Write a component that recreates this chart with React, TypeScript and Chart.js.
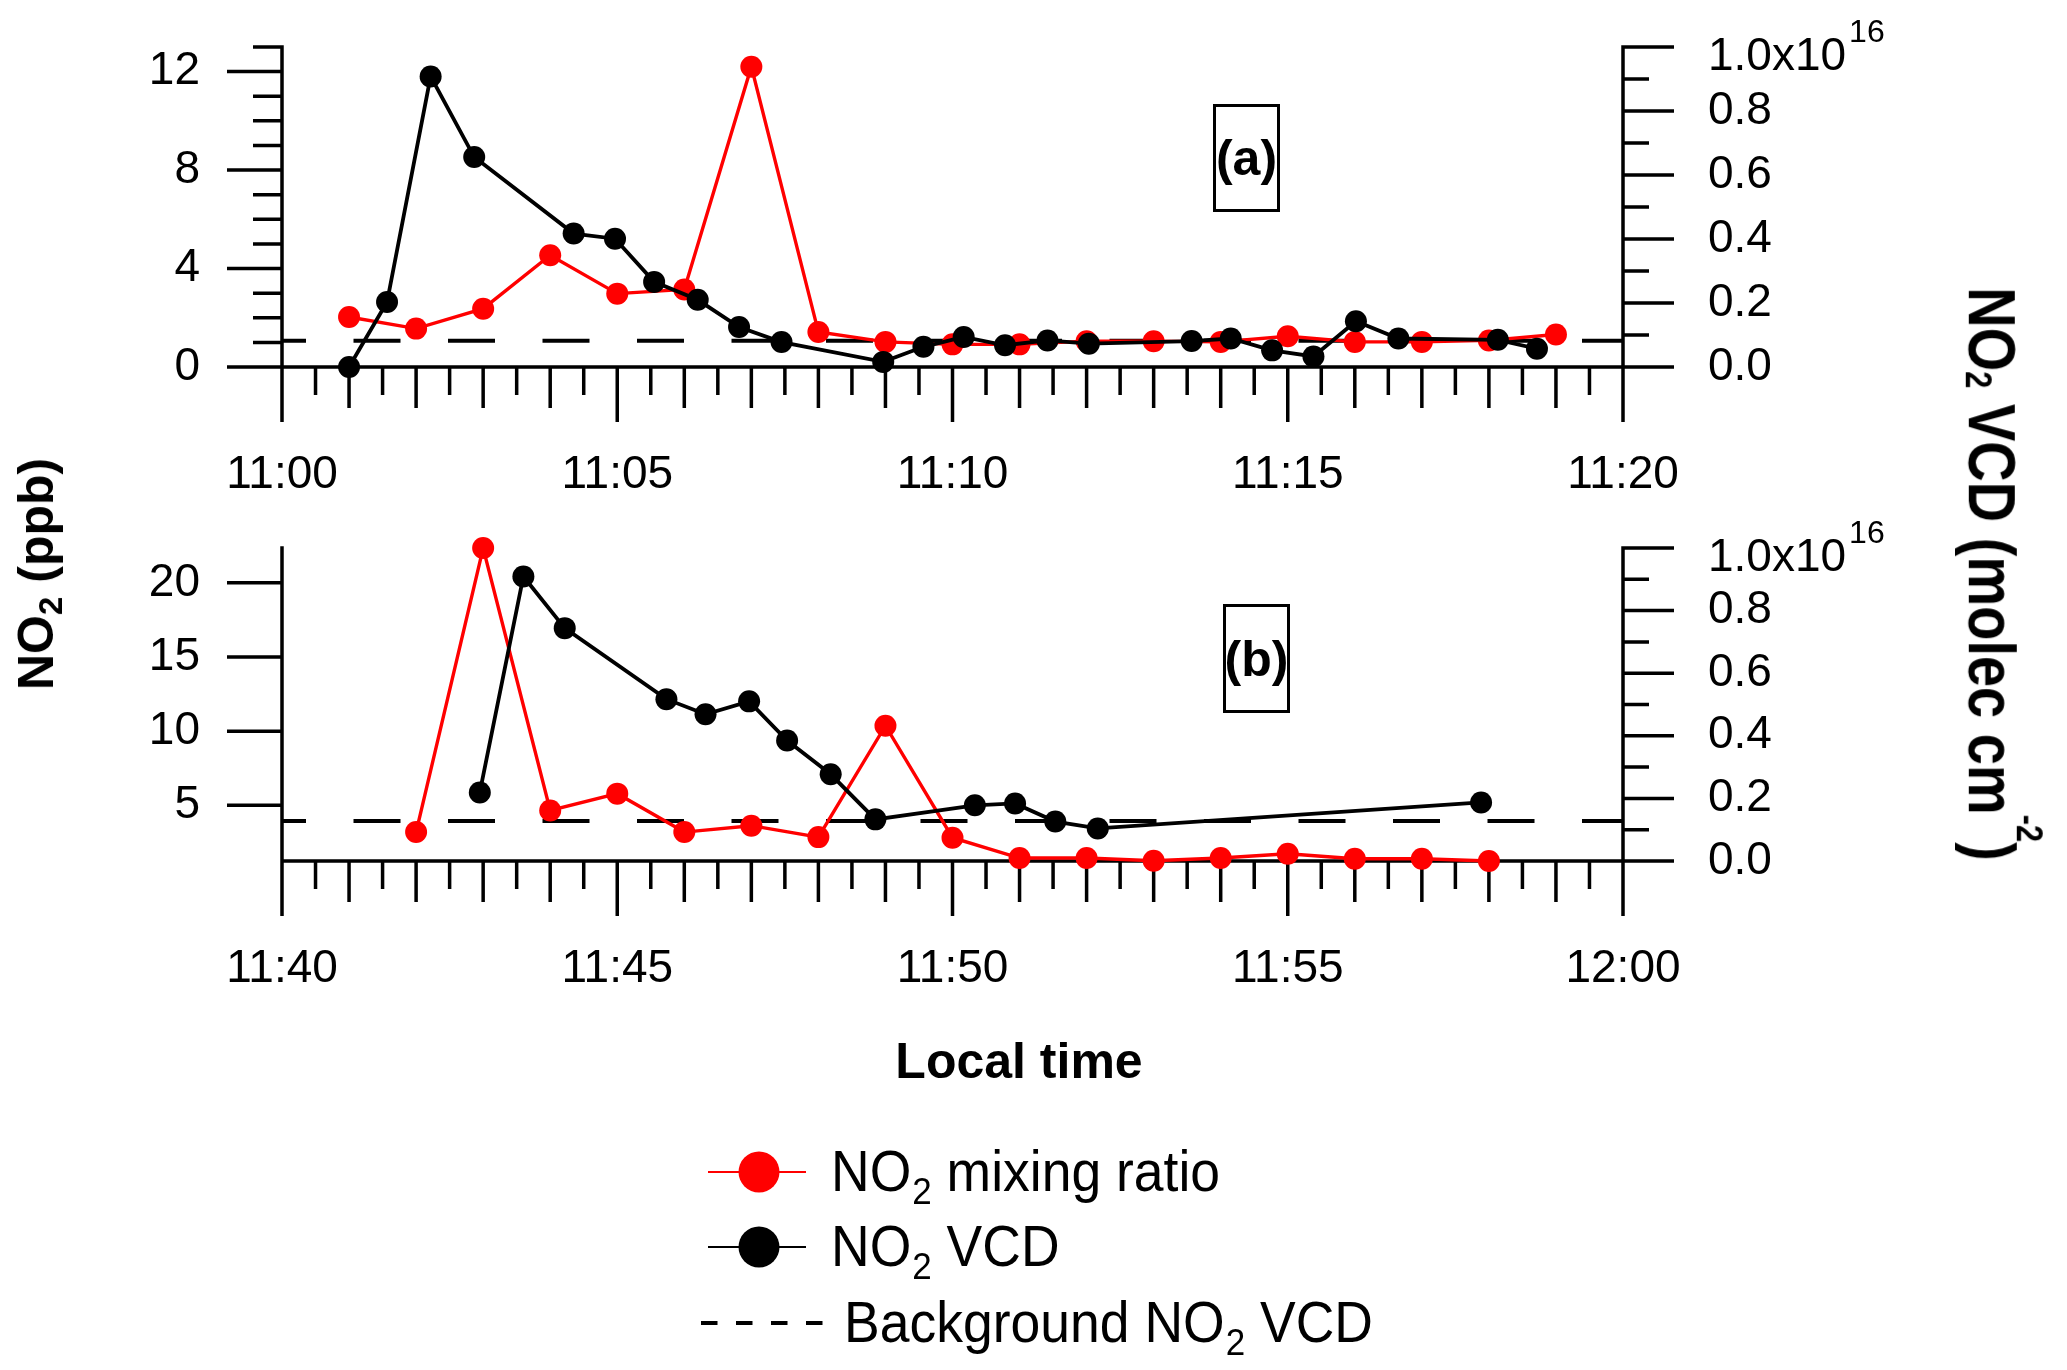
import React, { useEffect, useRef } from "react";
import { Chart, registerables } from "chart.js";

Chart.register(...registerables);

const FONT = "'Liberation Sans', Arial, Helvetica, sans-serif";
const RED = "#ff0000";
const BLACK = "#000000";

// ---------- Panel (a): 11:00 - 11:20 ----------
const redTimesA = ["11:01", "11:02", "11:03", "11:04", "11:05", "11:06", "11:07", "11:08", "11:09", "11:10", "11:11", "11:12", "11:13", "11:14", "11:15", "11:16", "11:17", "11:18", "11:19"];
const no2MixingA = [2.03, 1.56, 2.37, 4.54, 2.98, 3.15, 12.2, 1.42, 1.02, 0.92, 0.92, 1.05, 1.05, 1.02, 1.25, 1.02, 1.02, 1.08, 1.32];
const vcdTimesA = ["11:01:00", "11:01:34", "11:02:13", "11:02:52", "11:04:21", "11:04:58", "11:05:33", "11:06:12", "11:06:49", "11:07:27", "11:08:58", "11:09:34", "11:10:10", "11:10:47", "11:11:25", "11:12:02", "11:13:34", "11:14:09", "11:14:46", "11:15:23", "11:16:01", "11:16:39", "11:18:08", "11:18:43"];
const no2VcdA = [0, 2.03e15, 9.08e15, 6.56e15, 4.17e15, 4.01e15, 2.66e15, 2.1e15, 1.25e15, 7.8e14, 1.6e14, 6.3e14, 9.4e14, 6.8e14, 8.3e14, 7.3e14, 8.1e14, 8.9e14, 5.2e14, 3.3e14, 1.43e15, 8.9e14, 8.5e14, 5.7e14];
const backgroundVcdA = 8.2e14;
const xTicksA = ["11:00", "11:05", "11:10", "11:15", "11:20"];
const leftTicksA = [0, 4, 8, 12];
const leftRangeA = [0, 13];

// ---------- Panel (b): 11:40 - 12:00 ----------
const redTimesB = ["11:42", "11:43", "11:44", "11:45", "11:46", "11:47", "11:48", "11:49", "11:50", "11:51", "11:52", "11:53", "11:54", "11:55", "11:56", "11:57", "11:58"];
const no2MixingB = [3.2, 22.35, 4.66, 5.79, 3.2, 3.63, 2.86, 10.37, 2.82, 1.45, 1.45, 1.27, 1.45, 1.74, 1.4, 1.4, 1.25];
const vcdTimesB = ["11:42:57", "11:43:36", "11:44:13", "11:45:44", "11:46:19", "11:46:58", "11:47:32", "11:48:11", "11:48:51", "11:50:20", "11:50:56", "11:51:32", "11:52:10", "11:57:53"];
const no2VcdB = [2.19e15, 9.09e15, 7.44e15, 5.17e15, 4.69e15, 5.1e15, 3.85e15, 2.77e15, 1.33e15, 1.78e15, 1.84e15, 1.26e15, 1.04e15, 1.87e15];
const backgroundVcdB = 1.28e15;
const xTicksB = ["11:40", "11:45", "11:50", "11:55", "12:00"];
const leftTicksB = [5, 10, 15, 20];
const leftRangeB = [1.25, 22.35];

// ---------- shared ----------
const rightTicks = [0, 2e15, 4e15, 6e15, 8e15, 1e16];
const rightRange = [0, 1e16];
const legendLabels = ["NO2 mixing ratio", "NO2 VCD", "Background NO2 VCD"];

function toMin(t: string): number {
  const p = t.split(":").map(Number);
  return p[0] * 60 + p[1] + (p[2] || 0) / 60;
}
function fmt(v: number): string {
  const h = Math.floor(v / 60 + 1e-9);
  const m = Math.round(v - h * 60);
  return `${h}:${String(m).padStart(2, "0")}`;
}
function pts(times: string[], vals: number[]) {
  return times.map((t, i) => ({ x: toMin(t), y: vals[i] }));
}

const PAGE_W = 2067;
const AREA_L = 282;
const AREA_R = 1623;

function fillStretched(ctx: CanvasRenderingContext2D, text: string, x: number, baseline: number, sy: number) {
  ctx.save();
  ctx.translate(x, baseline);
  ctx.scale(1, sy);
  ctx.fillText(text, 0, 0);
  ctx.restore();
}

function makeAxisPlugin(leftMajor: number[], leftMinorStep: number, drawLegend: boolean, canvasTop: number) {
  return {
    id: "igorAxes",
    beforeDatasetsDraw(chart: any) {
      const { ctx, chartArea } = chart;
      const { left, right, top, bottom } = chartArea;
      const sx = chart.scales.x;
      const sy = chart.scales.y;
      const sr = chart.scales.y1;
      const lw = 3.5;
      const h = lw / 2;
      ctx.save();
      ctx.strokeStyle = BLACK;
      ctx.lineWidth = lw;
      ctx.lineCap = "butt";
      ctx.beginPath();
      ctx.moveTo(left, top - h);
      ctx.lineTo(left, bottom + h);
      ctx.moveTo(right, top - h);
      ctx.lineTo(right, bottom + h);
      ctx.moveTo(left - h, bottom);
      ctx.lineTo(right + h, bottom);
      const n = Math.round((sx.max - sx.min) * 2);
      for (let k = 0; k <= n; k++) {
        const px = sx.getPixelForValue(sx.min + k / 2);
        const len = k % 10 === 0 ? 55 : k % 2 === 0 ? 41 : 28;
        ctx.moveTo(px, bottom);
        ctx.lineTo(px, bottom + len);
      }
      if (leftMinorStep > 0) {
        const k0 = Math.ceil(sy.min / leftMinorStep - 1e-9);
        const k1 = Math.floor(sy.max / leftMinorStep + 1e-9);
        for (let k = k0; k <= k1; k++) {
          const py = sy.getPixelForValue(k * leftMinorStep);
          ctx.moveTo(left - 29, py);
          ctx.lineTo(left, py);
        }
      }
      for (const v of leftMajor) {
        const py = sy.getPixelForValue(v);
        ctx.moveTo(left - 55, py);
        ctx.lineTo(left, py);
      }
      for (let k = 0; k <= 10; k++) {
        const py = sr.getPixelForValue(rightRange[0] + (k * (rightRange[1] - rightRange[0])) / 10);
        const len = k % 2 === 0 ? 51 : 26;
        ctx.moveTo(right, py);
        ctx.lineTo(right + len, py);
      }
      ctx.stroke();
      ctx.restore();
    },
    afterDraw(chart: any) {
      const { ctx, chartArea } = chart;
      const sr = chart.scales.y1;
      const yTop = sr.getPixelForValue(rightTicks[rightTicks.length - 1]);
      ctx.save();
      ctx.fillStyle = BLACK;
      ctx.textAlign = "left";
      ctx.textBaseline = "middle";
      ctx.font = `46px ${FONT}`;
      const x0 = chartArea.right + 85;
      const mant = (rightTicks[rightTicks.length - 1] / 1e16).toFixed(1) + "x10";
      ctx.fillText(mant, x0, yTop + 10);
      const w = ctx.measureText(mant).width;
      ctx.font = `32px ${FONT}`;
      ctx.textBaseline = "alphabetic";
      ctx.fillText("16", x0 + w + 3, yTop - 5);

      if (drawLegend) {
        const rows = [1172, 1247, 1323].map((v) => v - canvasTop);
        const colors = [RED, BLACK, BLACK];
        const size = 53.5;
        const stretch = 1.06;
        for (let i = 0; i < legendLabels.length; i++) {
          const cy = rows[i];
          ctx.strokeStyle = colors[i];
          ctx.fillStyle = colors[i];
          if (i < 2) {
            ctx.lineWidth = 2;
            ctx.setLineDash([]);
            ctx.beginPath();
            ctx.moveTo(708, cy);
            ctx.lineTo(806, cy);
            ctx.stroke();
            ctx.beginPath();
            ctx.arc(759, cy, 20.5, 0, Math.PI * 2);
            ctx.fill();
          } else {
            ctx.lineWidth = 4;
            ctx.setLineDash([16.5, 18.5]);
            ctx.beginPath();
            ctx.moveTo(701, cy);
            ctx.lineTo(824, cy);
            ctx.stroke();
            ctx.setLineDash([]);
          }
          ctx.fillStyle = BLACK;
          const baseline = cy + 19;
          let cx = i < 2 ? 831 : 844;
          const parts = legendLabels[i].split("NO2");
          parts.forEach((p, j) => {
            if (j > 0) {
              ctx.font = `${size}px ${FONT}`;
              fillStretched(ctx, "NO", cx, baseline, stretch);
              cx += ctx.measureText("NO").width + 1;
              ctx.font = `${Math.round(size * 0.66)}px ${FONT}`;
              fillStretched(ctx, "2", cx, baseline + 13, stretch);
              cx += ctx.measureText("2").width;
            }
            ctx.font = `${size}px ${FONT}`;
            fillStretched(ctx, p, cx, baseline, stretch);
            cx += ctx.measureText(p).width;
          });
        }
      }
      ctx.restore();
    },
  };
}

// invisible chart.js tick marks, used only to offset the labels from the axis
const spacerGrid = (len: number) => ({
  display: true,
  drawOnChartArea: false,
  drawTicks: true,
  tickLength: len,
  color: "rgba(0,0,0,0)",
  tickColor: "rgba(0,0,0,0)",
});

function buildConfig(opts: {
  canvasTop: number;
  canvasH: number;
  areaTop: number;
  areaBottom: number;
  xTicks: string[];
  leftTicks: number[];
  leftRange: number[];
  leftMinorStep: number;
  red: { x: number; y: number }[];
  vcd: { x: number; y: number }[];
  bg: number;
  legend: boolean;
}): any {
  const xMin = toMin(opts.xTicks[0]);
  const xMax = toMin(opts.xTicks[opts.xTicks.length - 1]);
  const tickFont = { family: FONT, size: 46 };
  return {
    type: "line",
    data: {
      datasets: [
        {
          label: "NO2 VCD",
          data: opts.vcd,
          yAxisID: "y1",
          borderColor: BLACK,
          backgroundColor: BLACK,
          borderWidth: 3.8,
          pointRadius: 11,
          pointHoverRadius: 11,
          pointBorderWidth: 0,
          tension: 0,
          order: 0,
          clip: false,
        },
        {
          label: "NO2 mixing ratio",
          data: opts.red,
          yAxisID: "y",
          borderColor: RED,
          backgroundColor: RED,
          borderWidth: 3.4,
          pointRadius: 11,
          pointHoverRadius: 11,
          pointBorderWidth: 0,
          tension: 0,
          order: 1,
          clip: false,
        },
        {
          label: "Background NO2 VCD",
          data: [
            { x: xMin, y: opts.bg },
            { x: xMax, y: opts.bg },
          ],
          yAxisID: "y1",
          borderColor: BLACK,
          borderWidth: 4,
          borderDash: [47, 47.5],
          borderDashOffset: 23,
          pointRadius: 0,
          pointHoverRadius: 0,
          order: 2,
          clip: false,
        },
      ],
    },
    options: {
      responsive: false,
      maintainAspectRatio: false,
      animation: false,
      events: [],
      layout: { padding: { top: opts.areaTop - opts.canvasTop, left: 0, right: 0, bottom: 0 } },
      plugins: { legend: { display: false }, tooltip: { enabled: false }, title: { display: false } },
      scales: {
        x: {
          type: "linear",
          min: xMin,
          max: xMax,
          grid: spacerGrid(81),
          border: { display: false },
          ticks: {
            autoSkip: false,
            maxRotation: 0,
            minRotation: 0,
            padding: 0,
            color: BLACK,
            font: tickFont,
            callback: (v: number) => fmt(v),
          },
          afterBuildTicks: (s: any) => {
            s.ticks = opts.xTicks.map((t) => ({ value: toMin(t) }));
          },
          afterFit: (s: any) => {
            s.height = opts.canvasH - (opts.areaBottom - opts.canvasTop);
          },
        },
        y: {
          type: "linear",
          position: "left",
          min: opts.leftRange[0],
          max: opts.leftRange[1],
          grid: spacerGrid(82),
          border: { display: false },
          ticks: { autoSkip: false, padding: 0, color: BLACK, font: tickFont, callback: (v: number) => String(v) },
          afterBuildTicks: (s: any) => {
            s.ticks = opts.leftTicks.map((v) => ({ value: v }));
          },
          afterFit: (s: any) => {
            s.width = AREA_L;
          },
        },
        y1: {
          type: "linear",
          position: "right",
          min: rightRange[0],
          max: rightRange[1],
          grid: spacerGrid(85),
          border: { display: false },
          ticks: {
            autoSkip: false,
            padding: 0,
            color: BLACK,
            font: tickFont,
            callback: (v: number) => (v >= rightRange[1] - 1 ? "" : (v / 1e16).toFixed(1)),
          },
          afterBuildTicks: (s: any) => {
            s.ticks = rightTicks.map((v) => ({ value: v }));
          },
          afterFit: (s: any) => {
            s.width = PAGE_W - AREA_R;
          },
        },
      },
    },
    plugins: [makeAxisPlugin(opts.leftTicks, opts.leftMinorStep, opts.legend, opts.canvasTop)],
  };
}

const CAN_A_TOP = 0;
const CAN_A_H = 500;
const CAN_B_TOP = 500;
const CAN_B_H = 870;

const boxStyle = (left: number, top: number, w: number, h: number): React.CSSProperties => ({
  position: "absolute",
  left,
  top,
  width: w,
  height: h,
  boxSizing: "border-box",
  border: "3.5px solid #000",
  display: "flex",
  alignItems: "center",
  justifyContent: "center",
  font: `bold 50px ${FONT}`,
  color: "#000",
  lineHeight: 1,
  background: "transparent",
});

export default function App() {
  const refA = useRef<HTMLCanvasElement>(null);
  const refB = useRef<HTMLCanvasElement>(null);

  useEffect(() => {
    const a = new Chart(
      refA.current as HTMLCanvasElement,
      buildConfig({
        canvasTop: CAN_A_TOP,
        canvasH: CAN_A_H,
        areaTop: 47,
        areaBottom: 367,
        xTicks: xTicksA,
        leftTicks: leftTicksA,
        leftRange: leftRangeA,
        leftMinorStep: 1,
        red: pts(redTimesA, no2MixingA),
        vcd: pts(vcdTimesA, no2VcdA),
        bg: backgroundVcdA,
        legend: false,
      })
    );
    const b = new Chart(
      refB.current as HTMLCanvasElement,
      buildConfig({
        canvasTop: CAN_B_TOP,
        canvasH: CAN_B_H,
        areaTop: 548,
        areaBottom: 861,
        xTicks: xTicksB,
        leftTicks: leftTicksB,
        leftRange: leftRangeB,
        leftMinorStep: 0,
        red: pts(redTimesB, no2MixingB),
        vcd: pts(vcdTimesB, no2VcdB),
        bg: backgroundVcdB,
        legend: true,
      })
    );
    return () => {
      a.destroy();
      b.destroy();
    };
  }, []);

  return (
    <div
      style={{
        position: "absolute",
        left: 0,
        top: 0,
        width: PAGE_W,
        height: 1370,
        background: "#fff",
        overflow: "hidden",
        fontFamily: FONT,
        color: "#000",
      }}
    >
      <canvas
        ref={refA}
        width={PAGE_W}
        height={CAN_A_H}
        style={{ position: "absolute", left: 0, top: CAN_A_TOP, width: PAGE_W, height: CAN_A_H }}
      />
      <canvas
        ref={refB}
        width={PAGE_W}
        height={CAN_B_H}
        style={{ position: "absolute", left: 0, top: CAN_B_TOP, width: PAGE_W, height: CAN_B_H }}
      />
      <div style={boxStyle(1213, 104, 67, 108)}>(a)</div>
      <div style={boxStyle(1223, 604, 67, 109)}>(b)</div>
      <div
        style={{
          position: "absolute",
          left: 36,
          top: 574,
          transform: "translate(-50%, -50%) rotate(-90deg)",
          font: `bold 50px ${FONT}`,
          lineHeight: 1,
          whiteSpace: "nowrap",
        }}
      >
        NO<span style={{ fontSize: "0.66em", position: "relative", top: "0.28em" }}>2</span> (ppb)
      </div>
      <div
        style={{
          position: "absolute",
          left: 1992,
          top: 574,
          transform: "translate(-50%, -50%) rotate(90deg) scaleY(1.2)",
          font: `bold 56px ${FONT}`,
          lineHeight: 1,
          whiteSpace: "nowrap",
        }}
      >
        NO<span style={{ fontSize: "0.55em", position: "relative", top: "0.1em" }}>2</span> VCD (molec cm
        <span style={{ fontSize: "0.55em", position: "relative", top: "-1.3em" }}>-2</span>)
      </div>
      <div
        style={{
          position: "absolute",
          left: 1019,
          top: 1061,
          transform: "translate(-50%, -50%)",
          font: `bold 50px ${FONT}`,
          lineHeight: 1,
          whiteSpace: "nowrap",
        }}
      >
        Local time
      </div>
    </div>
  );
}
